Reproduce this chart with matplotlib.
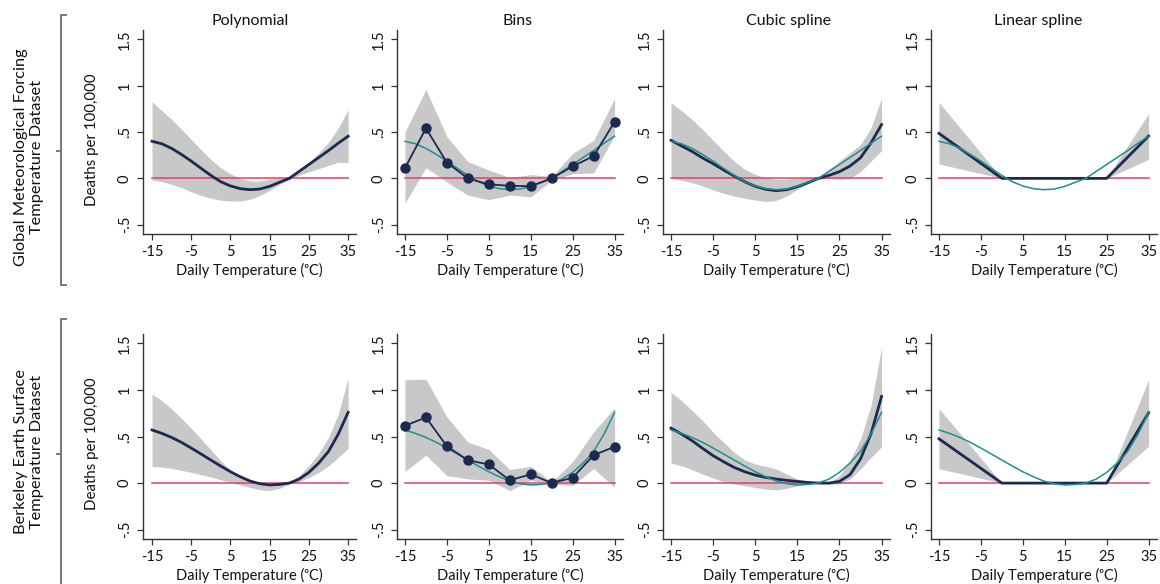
import numpy as np
import matplotlib
matplotlib.use("Agg")
import matplotlib.pyplot as plt
from matplotlib.lines import Line2D

plt.rcParams['font.family'] = ['Lato', 'DejaVu Sans']

# ---------------------------------------------------------------- data
# Temperature grid (degrees C) for the smooth response curves
temp_fine = [-15, -12.5, -10, -7.5, -5, -2.5, 0, 2.5, 5, 7.5, 10, 12.5,
             15, 17.5, 20, 22.5, 25, 27.5, 30, 32.5, 35]
# Temperature bins
temp_bins = [-15, -10, -5, 0, 5, 10, 15, 20, 25, 30, 35]
# Linear spline knots
temp_knots = [-15, 0, 25, 35]

# --- Global Meteorological Forcing dataset (row 1)
gmf_poly = [0.40, 0.373, 0.323, 0.258, 0.186, 0.108, 0.032, -0.036, -0.082, -0.111,
            -0.122, -0.115, -0.086, -0.043, 0.0, 0.075, 0.15, 0.225, 0.30, 0.38, 0.455]
gmf_poly_hi = [0.825, 0.73, 0.635, 0.53, 0.42, 0.31, 0.205, 0.115, 0.05, 0.0,
               -0.03, -0.03, -0.01, 0.007, 0.015, 0.08, 0.17, 0.275, 0.39, 0.545, 0.74]
gmf_poly_lo = [-0.02, -0.035, -0.065, -0.10, -0.145, -0.185, -0.215, -0.235, -0.245, -0.245,
               -0.225, -0.185, -0.13, -0.065, -0.01, 0.035, 0.07, 0.105, 0.14, 0.175, 0.17]

gmf_bins = [0.11, 0.54, 0.17, 0.0, -0.065, -0.08, -0.085, 0.0, 0.13, 0.24, 0.61]
gmf_bins_hi = [0.50, 0.96, 0.45, 0.18, 0.09, 0.01, 0.04, 0.02, 0.27, 0.41, 0.86]
gmf_bins_lo = [-0.27, 0.115, -0.04, -0.18, -0.23, -0.18, -0.20, -0.02, 0.05, 0.06, 0.46]

gmf_cubic = [0.41, 0.35, 0.29, 0.22, 0.158, 0.09, 0.025, -0.036, -0.086, -0.118,
             -0.133, -0.122, -0.09, -0.047, 0.0, 0.032, 0.072, 0.133, 0.222, 0.384, 0.58]
gmf_cubic_hi = [0.815, 0.73, 0.635, 0.527, 0.41, 0.294, 0.186, 0.097, 0.043, 0.007,
                -0.01, -0.01, 0.007, 0.018, 0.018, 0.097, 0.186, 0.276, 0.366, 0.545, 0.867]
gmf_cubic_lo = [0.0, -0.02, -0.047, -0.082, -0.125, -0.16, -0.19, -0.215, -0.233, -0.25,
                -0.237, -0.19, -0.118, -0.057, -0.01, 0.0, -0.01, 0.0, 0.072, 0.186, 0.30]

gmf_lin = [0.485, 0.0, 0.0, 0.457]
gmf_lin_hi = [0.82, 0.0, 0.0, 0.70]
gmf_lin_lo = [0.155, 0.0, 0.0, 0.205]

# --- Berkeley Earth Surface dataset (row 2)
bes_poly = [0.57, 0.534, 0.49, 0.437, 0.376, 0.312, 0.247, 0.183, 0.122, 0.068,
            0.022, -0.007, -0.02, -0.014, 0.0, 0.043, 0.115, 0.215, 0.34, 0.527, 0.76]
bes_poly_hi = [0.957, 0.885, 0.796, 0.695, 0.588, 0.473, 0.358, 0.24, 0.14, 0.068,
               0.025, 0.004, 0.0, 0.0, 0.007, 0.079, 0.186, 0.32, 0.49, 0.742, 1.125]
bes_poly_lo = [0.18, 0.172, 0.158, 0.136, 0.115, 0.09, 0.065, 0.036, 0.007, -0.02,
               -0.047, -0.072, -0.079, -0.057, -0.01, 0.014, 0.061, 0.115, 0.186, 0.276, 0.373]

bes_bins = [0.615, 0.705, 0.395, 0.245, 0.20, 0.03, 0.095, 0.0, 0.058, 0.30, 0.39]
bes_bins_hi = [1.11, 1.115, 0.71, 0.44, 0.36, 0.145, 0.18, 0.01, 0.23, 0.55, 0.81]
bes_bins_lo = [0.125, 0.30, 0.08, 0.045, 0.03, -0.08, 0.03, -0.01, -0.025, 0.155, -0.045]

bes_cubic = [0.59, 0.527, 0.455, 0.373, 0.294, 0.229, 0.168, 0.122, 0.086, 0.061,
             0.043, 0.029, 0.018, 0.007, 0.0, 0.0, 0.018, 0.09, 0.26, 0.53, 0.93]
bes_cubic_hi = [0.975, 0.885, 0.778, 0.67, 0.545, 0.437, 0.33, 0.25, 0.204, 0.18,
                0.15, 0.097, 0.043, 0.014, 0.0, 0.007, 0.079, 0.24, 0.473, 0.83, 1.46]
bes_cubic_lo = [0.215, 0.186, 0.143, 0.097, 0.054, 0.014, -0.01, -0.029, -0.047, -0.065,
                -0.072, -0.057, -0.029, -0.01, 0.0, -0.01, -0.01, 0.043, 0.15, 0.276, 0.39]

bes_lin = [0.475, 0.0, 0.0, 0.755]
bes_lin_hi = [0.80, 0.0, 0.0, 1.11]
bes_lin_lo = [0.155, 0.0, 0.0, 0.395]

model_titles = ["Polynomial", "Bins", "Cubic spline", "Linear spline"]
row_labels = ["Global Meteorological Forcing\nTemperature Dataset",
              "Berkeley Earth Surface\nTemperature Dataset"]
x_ticks = [-15, -5, 5, 15, 25, 35]
y_ticks = [-0.5, 0, 0.5, 1, 1.5]
y_ticklabels = ["-.5", "0", ".5", "1", "1.5"]

# ---------------------------------------------------------------- style
NAVY = "#1d2a50"
TEAL = "#1e8f8b"
ZERO = "#e4406a"
BAND = "#c8c8c8"
AXC = "#333333"
TXT = "#111111"
FS = 10.5

W, H = 1160, 584
fig = plt.figure(figsize=(W / 100, H / 100), dpi=100)


def px_box(x0, y0, x1, y1):
    return [x0 / W, 1 - y1 / H, (x1 - x0) / W, (y1 - y0) / H]


col_px = [(143, 356), (397, 623), (663, 890), (931, 1157)]
row_px = [(30, 234), (334, 539)]
xlims = [(-17.3, 37.0), (-16.9, 37.0), (-16.9, 37.0), (-16.9, 37.0)]

rows = [
    dict(poly=(gmf_poly, gmf_poly_lo, gmf_poly_hi),
         bins=(gmf_bins, gmf_bins_lo, gmf_bins_hi),
         cubic=(gmf_cubic, gmf_cubic_lo, gmf_cubic_hi),
         lin=(gmf_lin, gmf_lin_lo, gmf_lin_hi)),
    dict(poly=(bes_poly, bes_poly_lo, bes_poly_hi),
         bins=(bes_bins, bes_bins_lo, bes_bins_hi),
         cubic=(bes_cubic, bes_cubic_lo, bes_cubic_hi),
         lin=(bes_lin, bes_lin_lo, bes_lin_hi)),
]

for r, rd in enumerate(rows):
    poly = rd["poly"][0]
    for c in range(4):
        ax = fig.add_axes(px_box(col_px[c][0], row_px[r][0], col_px[c][1], row_px[r][1]))
        if c == 0:
            x, (y, lo, hi) = temp_fine, rd["poly"]
        elif c == 1:
            x, (y, lo, hi) = temp_bins, rd["bins"]
        elif c == 2:
            x, (y, lo, hi) = temp_fine, rd["cubic"]
        else:
            x, (y, lo, hi) = temp_knots, rd["lin"]

        ax.fill_between(x, lo, hi, color=BAND, lw=0, zorder=1)
        ax.plot([-15, 35], [0, 0], color=ZERO, lw=1.1, zorder=2)
        if c == 1:
            ax.plot(temp_fine, poly, color=TEAL, lw=1.1, zorder=3)
            ax.plot(x, y, color=NAVY, lw=1.3, marker="o", ms=6.5, zorder=4)
        elif c == 0:
            ax.plot(x, y, color=NAVY, lw=2.0, zorder=4)
        else:
            ax.plot(temp_fine, poly, color=TEAL, lw=1.1, zorder=4)
            ax.plot(x, y, color=NAVY, lw=2.0, zorder=3)

        ax.set_xlim(*xlims[c])
        ax.set_ylim(-0.6, 1.6)
        for s in ("top", "right"):
            ax.spines[s].set_visible(False)
        for s in ("left", "bottom"):
            ax.spines[s].set_color(AXC)
            ax.spines[s].set_linewidth(1.0)
        ax.set_xticks(x_ticks)
        ax.set_xticklabels([str(t) for t in x_ticks], fontsize=FS)
        ax.set_yticks(y_ticks)
        ax.set_yticklabels(y_ticklabels, fontsize=FS, rotation=90, va="center")
        ax.tick_params(direction="out", length=4, width=0.9, color=AXC,
                       labelcolor=TXT, pad=4)
        ax.set_xlabel("Daily Temperature (\u1d52C)", fontsize=FS, labelpad=3,
                      color=TXT)
        if r == 0:
            xc = [250, 518, 788, 1038][c]
            fig.text(xc / W, 1 - 21 / H, model_titles[c], fontsize=11.5,
                     ha="center", va="center", color=TXT)

    # y-axis title on the first column
    fig.text(92 / W, 1 - [140, 444][r] / H, "Deaths per 100,000", rotation=90,
             fontsize=FS + 0.3, ha="center", va="center", color=TXT)
    # dataset label and bracket
    fig.text(29 / W, 1 - [157, 452][r] / H, row_labels[r], rotation=90,
             fontsize=11.8, ha="center", va="center", multialignment="center",
             color=TXT, linespacing=1.2)

BR = "#777777"
brackets = [(15, 285, 151), (319, 600, 454)]
for y0, y1, ym in brackets:
    segs = [([61, 61], [y0, y1]), ([61, 66], [y0, y0]), ([61, 66], [y1, y1]),
            ([57, 61], [ym, ym])]
    for xs, ys in segs:
        fig.add_artist(Line2D([v / W for v in xs], [1 - v / H for v in ys],
                              color=BR, lw=1.4, transform=fig.transFigure))

fig.savefig("out.png", dpi=100)
